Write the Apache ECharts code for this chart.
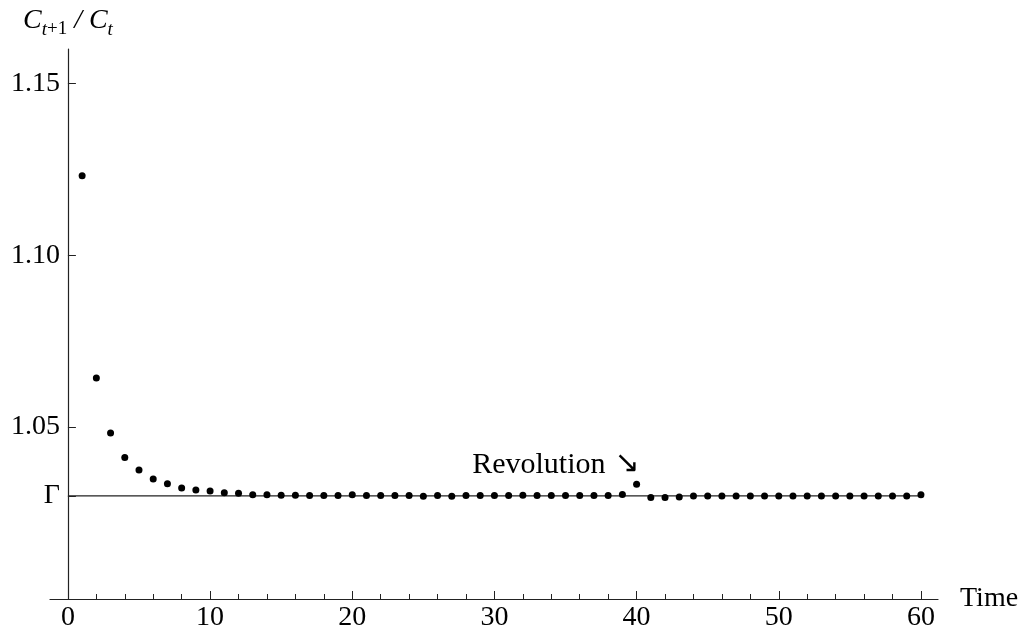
<!DOCTYPE html>
<html>
<head>
<meta charset="utf-8">
<script src="https://cdn.jsdelivr.net/npm/echarts@6/dist/echarts.min.js"></script>
<style>html,body{margin:0;padding:0;background:#fff}#c{width:1027px;height:639px}</style>
</head>
<body>
<div id="c"></div>
<script>
var times = [1,2,3,4,5,6,7,8,9,10,11,12,13,14,15,16,17,18,19,20,21,22,23,24,25,26,27,28,29,30,31,32,33,34,35,36,37,38,39,40,41,42,43,44,45,46,47,48,49,50,51,52,53,54,55,56,57,58,59,60];
var ratios = [1.1231,1.0643,1.0483,1.0412,1.0375,1.0349,1.0335,1.0323,1.0317,1.0314,1.0309,1.0308,
  1.0303,1.0303,1.0302,1.0302,1.0301,1.0301,1.0301,1.0303,1.0301,1.0301,1.0301,1.0301,1.0299,
  1.0301,1.0299,1.0301,1.0301,1.0301,1.0301,1.0302,1.0301,1.0301,1.0301,1.0301,1.0301,1.0301,
  1.0304,1.0334,1.0295,1.0295,1.0297,1.0300,1.0300,1.0300,1.0300,1.0300,1.0300,1.0300,1.0300,
  1.0300,1.0300,1.0300,1.0300,1.0300,1.0300,1.0300,1.0300,1.0303];
var GAMMA = 1.03;
var xMajorTicks = [0,10,20,30,40,50,60];
var xMinorTicks = [2,4,6,8,12,14,16,18,22,24,26,28,32,34,36,38,42,44,46,48,52,54,56,58];
var yTicks = [1.03,1.05,1.10,1.15];
var revolutionIndex = 39;

var FONT = '"Liberation Serif","Times New Roman",serif';
var data = times.map(function(t,i){
  var item = {value:[t, ratios[i]]};
  if (i === revolutionIndex) {
    item.label = {show:true, formatter: '{r|Revolution}{a|\u2198}', position:'top', align:'right', distance:1, offset:[3,0],
      rich:{
        r:{fontFamily:FONT, fontSize:30, color:'#000', padding:[0,9,0,0]},
        a:{fontFamily:'"DejaVu Sans",sans-serif', fontSize:30, color:'#000'}
      }};
  }
  return item;
});

var chart = echarts.init(document.getElementById('c'));
chart.setOption({
  animation:false,
  grid:{left:50, right:89, top:49, bottom:40, outerBoundsMode:'none', containLabel:false},
  xAxis:[{
    type:'value', min:-1.26, max:61.2, position:'bottom',
    name:'Time', nameLocation:'end', nameGap:22,
    nameTextStyle:{fontFamily:FONT, fontSize:28, color:'#000', verticalAlign:'middle'},
    axisLine:{onZero:false, lineStyle:{color:'#222', width:1.2}},
    axisTick:{inside:true, length:8, customValues:xMajorTicks, lineStyle:{color:'#222', width:1}},
    axisLabel:{customValues:xMajorTicks, fontFamily:FONT, fontSize:28, color:'#000', margin:5},
    splitLine:{show:false}
  },{
    type:'value', min:-1.26, max:61.2, position:'bottom',
    axisLine:{show:false, onZero:false},
    axisTick:{show:true, inside:true, length:5, customValues:xMinorTicks, lineStyle:{color:'#222', width:1}},
    axisLabel:{show:false},
    splitLine:{show:false}
  }],
  yAxis:{
    type:'value', min:1.0, max:1.16,
    name:'{c|C}{s|t}{u|+1}{n| / }{c|C}{s|t}', nameLocation:'end', nameGap:14,
    nameTextStyle:{rich:{
      c:{fontFamily:FONT, fontStyle:'italic', fontSize:28, color:'#000', verticalAlign:'bottom'},
      s:{fontFamily:FONT, fontStyle:'italic', fontSize:19, color:'#000', verticalAlign:'bottom', padding:[0,0,-4,0]},
      u:{fontFamily:FONT, fontSize:19, color:'#000', verticalAlign:'bottom', padding:[0,0,-4,0]},
      n:{fontFamily:FONT, fontStyle:'italic', fontSize:28, color:'#000', verticalAlign:'bottom'}
    }},
    axisLine:{show:true, onZero:true, lineStyle:{color:'#222', width:1.2}},
    axisTick:{inside:true, length:8, customValues:yTicks, lineStyle:{color:'#222', width:1}},
    axisLabel:{customValues:yTicks, fontFamily:FONT, fontSize:28, color:'#000', margin:-10,
      formatter:function(v){ return Math.abs(v-GAMMA)<1e-9 ? '\u0393' : v.toFixed(2); }},
    splitLine:{show:false}
  },
  series:[{
    type:'line', data:[[0,GAMMA],[xMajorTicks[xMajorTicks.length-1],GAMMA]],
    showSymbol:false, symbol:'none', lineStyle:{color:'#222', width:1.2}, silent:true, z:1
  },{
    type:'scatter', data:data, symbolSize:7, itemStyle:{color:'#000', opacity:1}, z:3
  }]
});
</script>
</body>
</html>
